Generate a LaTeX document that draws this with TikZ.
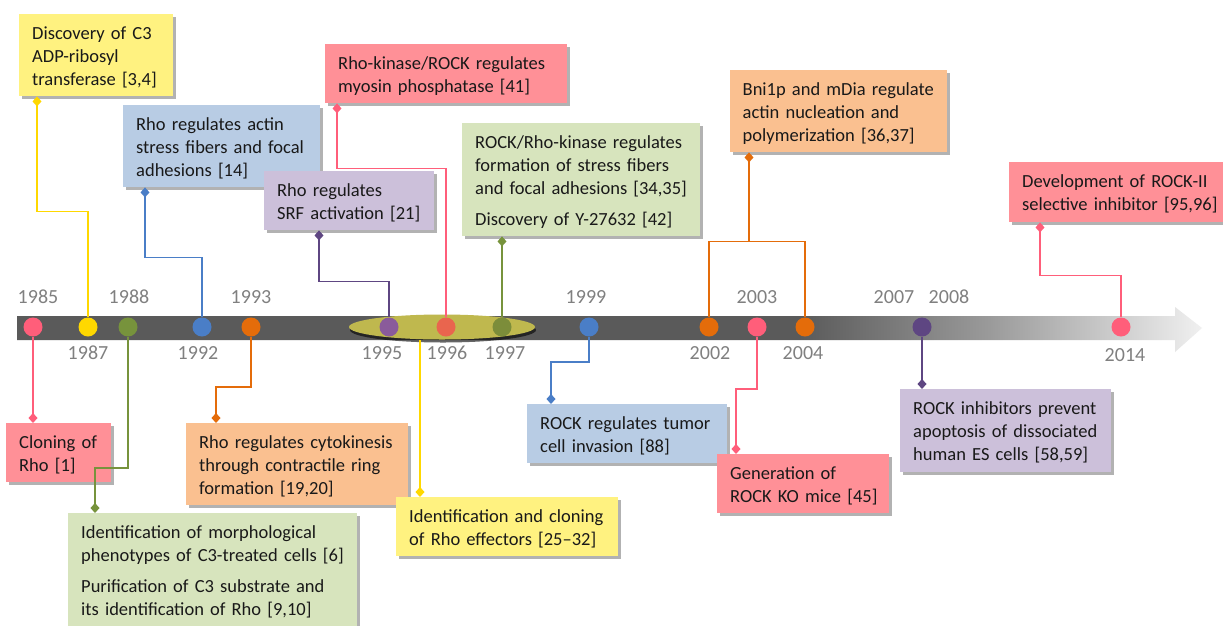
\documentclass[tikz,border=0pt]{standalone}
\usepackage{fontspec}
\setmainfont{Carlito}
\usetikzlibrary{arrows.meta, positioning, shadows, shapes.geometric}

% box fills
\definecolor{boxyellow}{HTML}{FFF280}
\definecolor{boxblue}{HTML}{B8CCE4}
\definecolor{boxpurple}{HTML}{CCC0DA}
\definecolor{boxpink}{HTML}{FF9097}
\definecolor{boxgreen}{HTML}{D7E4BD}
\definecolor{boxorange}{HTML}{FAC090}
% line and dot colours
\definecolor{linkyellow}{HTML}{FFD800}
\definecolor{linkblue}{HTML}{4A7EC7}
\definecolor{linkpurple}{HTML}{5E4682}
\definecolor{linkpink}{HTML}{FF5E7A}
\definecolor{linkgreen}{HTML}{77933C}
\definecolor{linkorange}{HTML}{E46C0A}
\definecolor{dotpurple}{HTML}{8A5B9B}
\definecolor{dotred}{HTML}{E9654E}
\definecolor{dotgreen}{HTML}{7C8D3A}
\definecolor{hlcolor}{HTML}{BFB84E}
\definecolor{bardark}{HTML}{5A5A5A}
\definecolor{barmid}{HTML}{9A9A9A}
\definecolor{barlight}{HTML}{F0F0F0}
\definecolor{yeargray}{HTML}{808080}

% lines of an event box, kept unbroken
\newcommand\evtlines[1]{\noindent\begin{tabular}{@{}l@{}}\noalign{\vskip 5pt}#1\end{tabular}}

\begin{document}
\begin{tikzpicture}[x=1pt, y=-1pt,
  event/.style={anchor=north west, align=left, inner xsep=13pt, inner ysep=4pt,
    font=\fontsize{18.5}{23}\selectfont, text=black!90,
    drop shadow={shadow xshift=3pt, shadow yshift=-3pt, opacity=0.3, fill=black}},
  dot/.style={circle, minimum size=19pt, inner sep=0pt},
  year/.style={text=yeargray, font=\fontsize{20}{24}\selectfont, inner sep=0pt},
  link/.style={line width=1.8pt, {Diamond[length=10pt,width=9pt]}-}
]

% Fading bar of the timeline
\pgfdeclarehorizontalshading{barfade}{100bp}{
  color(0bp)=(bardark); color(25bp)=(bardark); color(58bp)=(bardark);
  color(66bp)=(barmid); color(75bp)=(barlight); color(100bp)=(barlight)
}

\useasboundingbox[fill=white] (0,0) rectangle (1223,625);

% Timeline arrow
\shade[shading=barfade] (17,316) -- (1175,316) -- (1175,307) -- (1202,328)
  -- (1175,352) -- (1175,340) -- (17,340) -- cycle;

% Highlight 1995-1997
\node[ellipse, fill=hlcolor, minimum width=186pt, minimum height=25pt, inner sep=0pt,
  drop shadow={shadow xshift=1pt, shadow yshift=-3pt, opacity=0.6, fill=black}]
  (hl) at (442,327) {};

% Dots
\foreach \yr/\x/\col in {1985/33/linkpink, 1987/88/linkyellow, 1988/128/linkgreen,
    1992/202/linkblue, 1993/251/linkorange, 1995/389/dotpurple, 1996/446/dotred,
    1997/502/dotgreen, 1999/589/linkblue, 2002/709/linkorange, 2003/757/linkpink,
    2004/805/linkorange, 2008/922/linkpurple, 2014/1121/linkpink}
  \node[dot, fill=\col] (d\yr) at (\x,327) {};

% Years
\foreach \yr/\x/\y in {1985/38/297, 1988/129/297, 1993/251/297, 1999/586/297,
    2003/757/297, 2007/894/297, 2008/949/297, 1987/88/353, 1992/198/353,
    1995/382/353, 1996/447/353, 1997/505/353, 2002/710/353, 2004/803/353,
    2014/1125/355}
  \node[year] (y\yr) at (\x,\y) {\yr};

% Events above the bar
\node[event, fill=boxyellow, text width=128pt, minimum height=82pt] (c3) at (19,14)
  {\evtlines{Discovery of C3\\ADP-ribosyl\\transferase [3,4]}};
\node[event, fill=boxpink, text width=216pt, minimum height=58pt] (myosin) at (325,44)
  {\evtlines{Rho-kinase/ROCK regulates\\myosin phosphatase [41]}};
\node[event, fill=boxblue, text width=171pt, minimum height=82pt] (actin) at (123,105)
  {\evtlines{Rho regulates actin\\stress fibers and focal\\adhesions [14]}};
\node[event, fill=boxpurple, text width=144pt, minimum height=58pt] (srf) at (264,171)
  {\evtlines{Rho regulates\\SRF activation [21]}};
\node[event, fill=boxgreen, text width=212pt, minimum height=112pt] (stress) at (462,123)
  {\evtlines{ROCK/Rho-kinase regulates\\formation of stress fibers\\and focal adhesions [34,35]\\[8pt]Discovery of Y-27632 [42]}};
\node[event, fill=boxorange, text width=191pt, minimum height=81pt] (bni) at (729.5,70)
  {\evtlines{Bni1p and mDia regulate\\actin nucleation and\\polymerization [36,37]}};
\node[event, fill=boxpink, text width=194pt, minimum height=60pt] (rock2) at (1009,162)
  {\evtlines{Development of ROCK-II\\selective inhibitor [95,96]}};

% Events below the bar
\node[event, fill=boxpink, text width=79pt, minimum height=58pt] (cloning) at (6,423)
  {\evtlines{Cloning of\\Rho [1]}};
\node[event, fill=boxgreen, text width=263pt, minimum height=110pt] (pheno) at (68,513)
  {\evtlines{Identification of morphological\\phenotypes of C3-treated cells [6]\\[8pt]Purification of C3 substrate and\\its identification of Rho [9,10]}};
\node[event, fill=boxorange, text width=196pt, minimum height=81pt] (cyto) at (186,423)
  {\evtlines{Rho regulates cytokinesis\\through contractile ring\\formation [19,20]}};
\node[event, fill=boxyellow, text width=196pt, minimum height=57pt] (effect) at (396,497)
  {\evtlines{Identification and cloning\\of Rho effectors [25--32]}};
\node[event, fill=boxblue, text width=174pt, minimum height=59pt] (invasion) at (527,404)
  {\evtlines{ROCK regulates tumor\\cell invasion [88]}};
\node[event, fill=boxpink, text width=146pt, minimum height=58pt] (komice) at (717,454)
  {\evtlines{Generation of\\ROCK KO mice [45]}};
\node[event, fill=boxpurple, text width=185pt, minimum height=83pt] (esc) at (900,389)
  {\evtlines{ROCK inhibitors prevent\\apoptosis of dissociated\\human ES cells [58,59]}};

% Connectors above
\draw[link, linkyellow] ([xshift=18pt]c3.south west) -- ++(0,115) -| (d1987);
\draw[link, linkblue] ([xshift=22pt]actin.south west) -- ++(0,70) -| (d1992);
\draw[link, linkpurple] ([xshift=55pt]srf.south west) -- ++(0,51) -| (d1995);
\draw[link, linkpink] ([xshift=12pt]myosin.south west) -- ++(0,65) -| (d1996);
\draw[link, linkgreen] ([xshift=40pt]stress.south west) -- (d1997);
\draw[link, linkorange] ([xshift=19.5pt]bni.south west) -- ++(0,89) coordinate (fork);
\draw[line width=1.8pt, linkorange] (d2002) |- (fork) -| (d2004);
\draw[link, linkpink] ([xshift=31pt]rock2.south west) -- ++(0,53) -| (d2014);

% Connectors below
\draw[link, linkpink] ([xshift=27pt]cloning.north west) -- (d1985);
\draw[link, linkgreen] ([xshift=27pt]pheno.north west) -- ++(0,-45) -| (d1988);
\draw[link, linkorange] ([xshift=30pt]cyto.north west) -- ++(0,-36) -| (d1993);
\coordinate (jtop) at ([xshift=24pt]effect.north west);
\draw[link, linkyellow] (jtop) -- (jtop |- hl.south);
\draw[link, linkblue] ([xshift=24pt]invasion.north west) -- ++(0,-42) -| (d1999);
\draw[link, linkpink] ([xshift=19pt]komice.north west) -- ++(0,-65) -| (d2003);
\draw[link, linkpurple] ([xshift=22pt]esc.north west) -- (d2008);

\end{tikzpicture}
\end{document}
